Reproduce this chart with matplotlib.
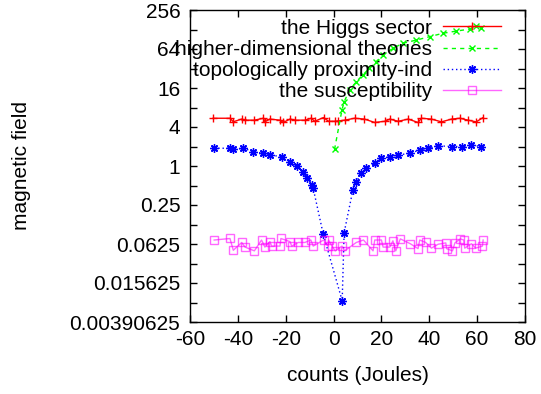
import numpy as np
import matplotlib
matplotlib.use('Agg')
import matplotlib.pyplot as plt
from matplotlib.ticker import FixedLocator, FixedFormatter, NullFormatter

plt.rcParams['font.family'] = ['Liberation Sans', 'DejaVu Sans']
plt.rcParams['font.size'] = 15
plt.rcParams['axes.unicode_minus'] = False

# the Higgs sector
higgs_x = [-50.3, -43.3, -41.9, -38.4, -37.0, -33.1, -29.3, -28.7, -26.6, -22.4,
           -21.0, -18.2, -16.0, -12.0, -9.3, -7.9, -4.2, -2.1, 0.7, 1.8,
           4.6, 8.8, 12.9, 17.2, 21.4, 23.5, 27.0, 31.2, 35.3, 36.7,
           40.9, 45.1, 49.3, 52.8, 56.2, 59.6, 62.5]
higgs_y = [5.46, 5.46, 4.82, 5.3, 5.1, 5.1, 5.46, 4.82, 5.3, 5.1,
           4.7, 5.3, 5.1, 5.1, 5.46, 4.9, 5.6, 4.9, 4.9, 4.96,
           5.1, 5.46, 5.3, 4.7, 4.9, 5.3, 4.9, 5.3, 4.7, 5.46,
           5.3, 4.8, 5.3, 5.46, 5.1, 4.8, 5.6]

# higher-dimensional theories
hdt_x = [0.4, 3.5, 4.4, 6.7, 9.5, 12.2, 15.0, 17.8, 20.6, 24.8,
         29.0, 34.6, 40.1, 45.7, 51.3, 57.0, 59.5, 61.8]
hdt_y = [1.8, 7.3, 9.8, 14.9, 20.0, 25.4, 32.3, 40.8, 51.8, 65.6,
         78.5, 88.0, 99.0, 112.0, 121.0, 130.0, 145.0, 136.0]

# topologically proximity-ind
topo_x = [-49.9, -43.3, -42.0, -37.7, -33.5, -29.3, -26.5, -21.7, -18.2, -15.4,
          -12.7, -10.9, -9.2, -8.5, -4.3, 3.6, 4.4, 8.1, 9.5, 11.6,
          13.7, 17.2, 20.0, 23.5, 27.0, 31.9, 36.1, 39.5, 43.7, 49.3,
          53.5, 57.6, 61.8]
topo_y = [1.88, 1.88, 1.8, 1.88, 1.66, 1.57, 1.48, 1.39, 1.17, 1.0,
          0.82, 0.66, 0.51, 0.45, 0.088, 0.0083, 0.093, 0.43, 0.57, 0.77,
          0.92, 1.1, 1.31, 1.39, 1.48, 1.57, 1.77, 1.88, 2.05, 2.0,
          2.0, 2.1, 2.0]

# the susceptibility
sus_x = [-49.9, -43.3, -41.9, -38.4, -37.0, -33.1, -30.1, -28.7, -26.6, -25.9,
         -22.4, -22.0, -18.2, -17.5, -14.8, -12.0, -9.5, -8.5, -4.2, -2.4,
         -2.1, -0.7, 0.7, 3.5, 4.6, 9.5, 12.5, 16.5, 17.2, 20.0,
         20.7, 23.5, 24.8, 26.0, 27.9, 32.1, 35.3, 36.0, 38.5, 40.9,
         43.7, 46.9, 47.2, 49.7, 50.7, 53.0, 54.4, 54.8, 57.6, 59.4,
         62.2, 62.5]
sus_y = [0.072, 0.076, 0.050, 0.066, 0.056, 0.049, 0.072, 0.056, 0.068, 0.058,
         0.058, 0.076, 0.068, 0.058, 0.066, 0.066, 0.072, 0.058, 0.072, 0.058,
         0.072, 0.058, 0.049, 0.058, 0.049, 0.066, 0.072, 0.049, 0.072, 0.072,
         0.056, 0.056, 0.070, 0.049, 0.075, 0.063, 0.053, 0.072, 0.066, 0.054,
         0.062, 0.065, 0.053, 0.049, 0.065, 0.075, 0.072, 0.054, 0.063, 0.054,
         0.058, 0.072]

ytick_vals = [2.0 ** e for e in range(-8, 9, 2)]
ytick_labels = ['%g' % v for v in ytick_vals]
yminor_vals = [2.0 ** e for e in range(-7, 8, 2)]

fig = plt.figure(figsize=(5.41, 3.94), dpi=100)
ax = fig.add_axes([190 / 541, 72 / 394, 335 / 541, 312 / 394])

ax.plot(higgs_x, higgs_y, color='#ff0000', lw=1, marker='+', ms=6, mew=1,
        label='the Higgs sector')
ax.plot(hdt_x, hdt_y, color='#00ff00', lw=1, ls=(0, (3, 3)), marker='x', ms=5, mew=1,
        label='higher-dimensional theories')
ax.plot(topo_x, topo_y, color='#0000ff', lw=1, ls=(0, (1, 2)), marker=(8, 2, 0), ms=6, mew=1,
        label='topologically proximity-ind')
ax.plot(sus_x, sus_y, color='#ff00ff', lw=1, alpha=0.6, marker='s', ms=6, mew=1,
        mfc='none', mec='#ff00ff', label='the susceptibility')

ax.set_yscale('log', base=2)
ax.set_ylim(2.0 ** -8, 2.0 ** 8)
ax.set_xlim(-60, 80)
ax.set_xticks(np.arange(-60, 81, 20))
ax.yaxis.set_major_locator(FixedLocator(ytick_vals))
ax.yaxis.set_major_formatter(FixedFormatter(ytick_labels))
ax.yaxis.set_minor_locator(FixedLocator(yminor_vals))
ax.yaxis.set_minor_formatter(NullFormatter())
ax.xaxis.set_minor_locator(FixedLocator([]))

ax.tick_params(which='both', direction='in', top=True, right=True, width=1, length=5)
ax.tick_params(axis='y', pad=7)
ax.tick_params(axis='x', pad=6)
for s in ax.spines.values():
    s.set_linewidth(1)

ax.set_xlabel('counts (Joules)')
ax.set_ylabel('magnetic field')
ax.xaxis.set_label_coords(0.5, -0.14)
ax.yaxis.set_label_coords(-0.475, 0.5)

leg = ax.legend(loc='upper right', bbox_to_anchor=(0.928, 0.972), frameon=False,
                markerfirst=False, handlelength=2.8, handletextpad=0.5,
                labelspacing=0.1, borderpad=0, numpoints=1, borderaxespad=0)

fig.savefig('out.png', dpi=100)
